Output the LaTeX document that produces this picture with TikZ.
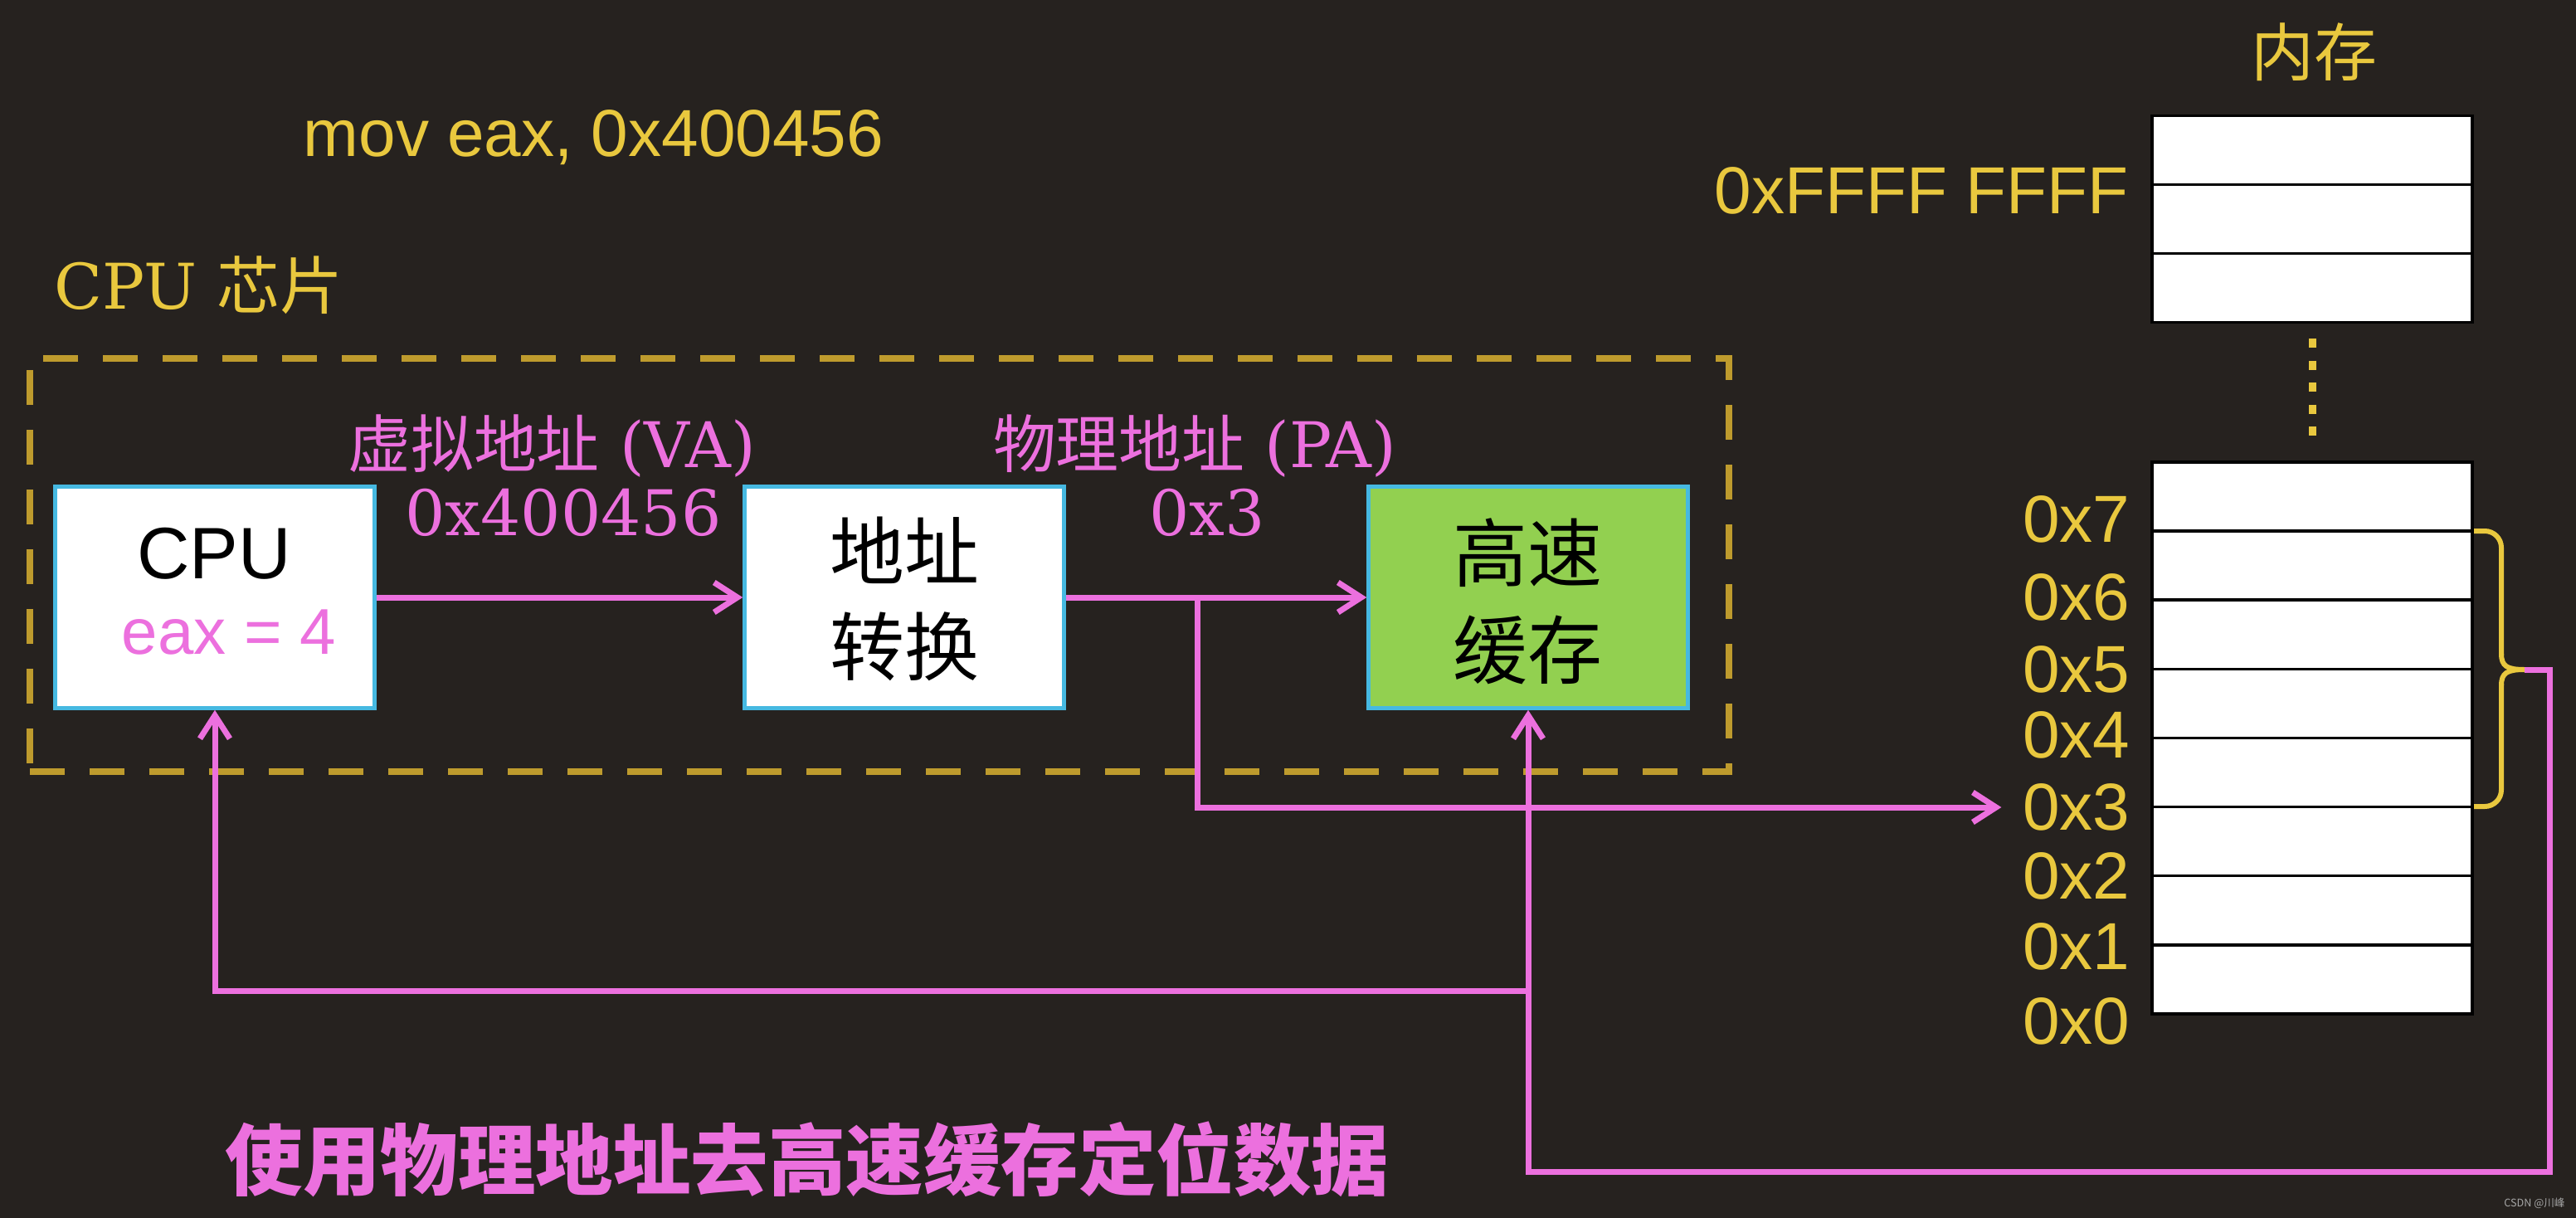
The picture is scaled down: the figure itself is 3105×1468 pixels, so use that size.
\documentclass[tikz,border=0pt]{standalone}
\usepackage{fontspec}
\setmainfont{Liberation Sans}
\newfontfamily\dserif{DejaVu Serif}
\newfontfamily\cjk{Noto Sans CJK SC}
\usetikzlibrary{arrows.meta}
\definecolor{bg}{RGB}{38,34,31}
\definecolor{ylw}{RGB}{233,200,62}
\definecolor{dashc}{RGB}{190,155,45}
\definecolor{pnk}{RGB}{236,112,222}
\definecolor{cyn}{RGB}{70,185,225}
\definecolor{grn}{RGB}{146,208,80}
\begin{document}
\begin{tikzpicture}[x=0.1mm,y=-0.1mm,
  pa/.style={draw=pnk, line width=0.7mm},
  arr/.style={-{Straight Barb[length=2.8mm,width=3.6mm]}},
  blk/.style={draw=cyn, line width=0.45mm, minimum width=38.5mm, minimum height=26.7mm, inner sep=0pt, fill=white},
  cell/.style={draw=black, fill=white, line width=0.35mm, minimum width=38.6mm, minimum height=8.3mm, inner sep=0pt},
  ysans/.style={text=ylw, inner sep=0pt, font=\fontsize{22.8pt}{26pt}\selectfont},
  pserif/.style={text=pnk, inner sep=0pt, font=\dserif\fontsize{21.6pt}{25pt}\selectfont},
  boxcjk/.style={inner sep=0pt, align=center, text=black},
  memlab/.style={ysans, anchor=east}
]
\useasboundingbox (0,0) rectangle (3105,1468);
\fill[bg] (0,0) rectangle (3105,1468);

% chip dashed frame
\node[draw=dashc, line width=0.8mm, dash pattern=on 4.2mm off 3mm, minimum width=204.8mm, minimum height=49.8mm, inner sep=0pt] (chip) at (1060,681) {};

% texts top
\node[ysans, anchor=base west] (mov) at (365,188) {mov eax, 0x400456};
\node[text=ylw, inner sep=0pt, anchor=base west, font=\dserif\fontsize{21.6pt}{25pt}\selectfont] (chiplab) at (65,372) {CPU {\cjk 芯片}};

% boxes
\node[blk] (cpu) at (259,720) {};
\node[blk] (tr) at (1090,720) {};
\node[blk, fill=grn] (cache) at (1842,720) {};

\node[inner sep=0pt, anchor=base, text=black, font=\fontsize{25pt}{28pt}\selectfont] (cputxt) at (258,697) {CPU};
\node[inner sep=0pt, anchor=base, text=pnk, font=\fontsize{22.2pt}{26pt}\selectfont] (eaxtxt) at (276,788) {eax = 4};
\node[boxcjk, font=\cjk\fontsize{25.6pt}{32.7pt}\selectfont] (trtxt) at (1090,722) {地址\\转换};
\node[boxcjk, font=\cjk\fontsize{25.6pt}{33.3pt}\selectfont] (cachetxt) at (1841,725) {高速\\缓存};

% labels on arrows
\node[pserif, anchor=base] (valab) at (665,563) {{\cjk 虚拟地址} (VA)};
\node[pserif, anchor=base] (vaval) at (679,645) {0x400456};
\node[pserif, anchor=base] (palab) at (1440,563) {{\cjk 物理地址} (PA)};
\node[pserif, anchor=base] (paval) at (1455,645) {0x3};

% memory
\node[text=ylw, inner sep=0pt, font=\cjk\fontsize{21.6pt}{25pt}\selectfont] (memtitle) at (2789,63) {内存};
\node[cell] (f1) at (2787,181) {};
\node[cell] (f2) at (2787,264) {};
\node[cell] (f3) at (2787,347) {};
\node[memlab] (lf) at (2566,230) {0xFFFF FFFF};

\coordinate (d1) at (2787,408);
\coordinate (d2) at (2787,526);
\draw[draw=ylw, line width=0.9mm, dash pattern=on 1.1mm off 1.55mm] (d1) -- (d2);

\foreach \i/\y in {7/598.6,6/681.7,5/764.8,4/847.9,3/931,2/1014.1,1/1097.2,0/1180.3}{
  \node[cell] (c\i) at (2787,\y) {};
}
\foreach \i/\y in {7/626,6/720,5/807,4/886,3/973,2/1056,1/1141,0/1231}{
  \node[memlab] (l\i) at (2568,\y) {0x\i};
}

% bracket
\coordinate (tip) at (3043,807);
\draw[draw=ylw, line width=0.6mm, rounded corners=2mm] (2982,640) -- (3015,640) -- (3015,790);
\draw[draw=ylw, line width=0.6mm] (3015,788) .. controls (3015,803) and (3022,807) .. (tip);
\draw[draw=ylw, line width=0.6mm] (3015,826) .. controls (3015,811) and (3022,807) .. (tip);
\draw[draw=ylw, line width=0.6mm, rounded corners=2mm] (3015,824) -- (3015,972) -- (2982,972);

% arrows
\draw[pa, arr] (cpu.east) -- (tr.west);
\draw[pa, arr] (tr.east) -- (cache.west);
\coordinate (br) at (1443,720);
\draw[pa, arr] (br) |- ([xshift=-2.5mm]l3.west);

\coordinate (rc) at (3073,1412);
\draw[pa, arr] (tip) -| (rc) -| (cache.south);
\coordinate (jn) at (1842,1194);
\draw[pa, arr] (jn) -| (cpu.south);

% caption
\node[text=pnk, inner sep=0pt, font=\cjk\bfseries\fontsize{26.6pt}{30pt}\selectfont] (caption) at (973,1397) {使用物理地址去高速缓存定位数据};
\node[text=gray!70, inner sep=0pt, font=\cjk\fontsize{3.6pt}{4pt}\selectfont] (wm) at (3055,1450) {CSDN @川峰};
\end{tikzpicture}
\end{document}
